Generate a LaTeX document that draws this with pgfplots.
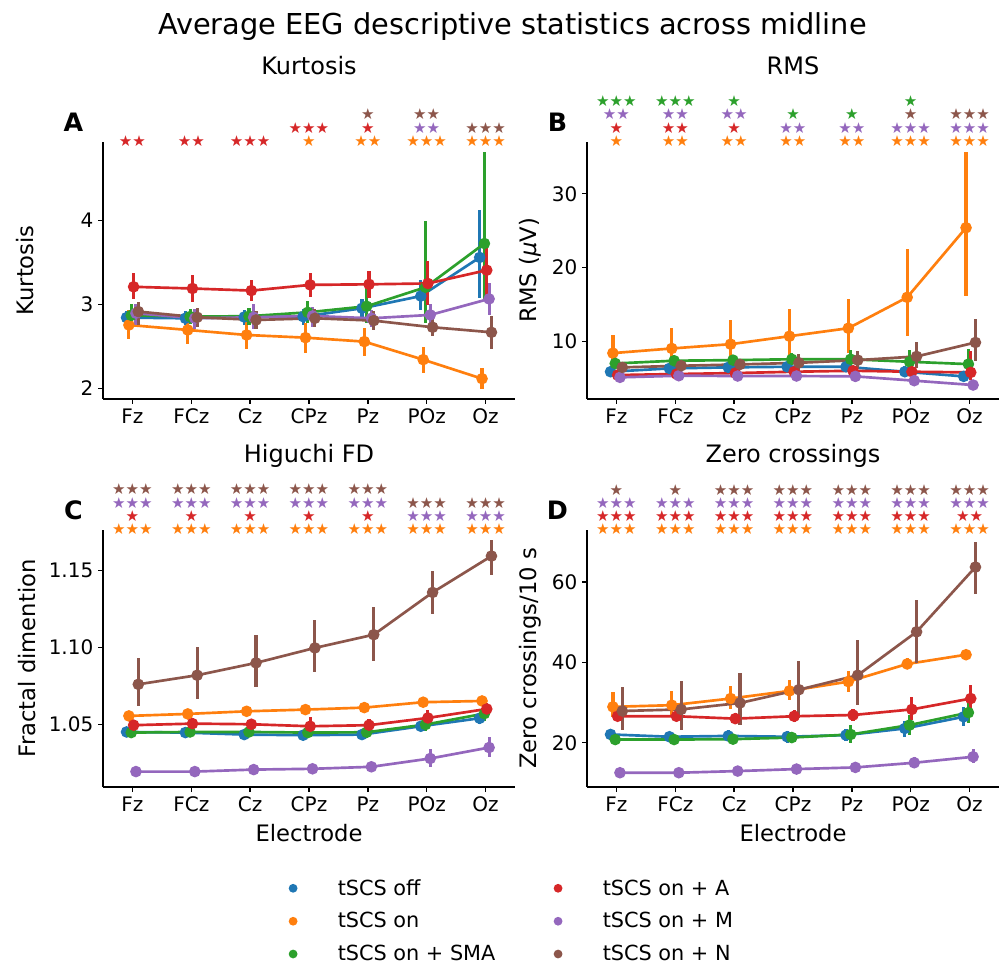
\documentclass[border=0pt]{standalone}
\usepackage{fontspec}
\setmainfont{DejaVu Sans}
\usepackage{pgfplots}
\pgfplotsset{compat=1.18}
\usepackage{pgfplotstable}

\definecolor{tBlue}{HTML}{1F77B4}
\definecolor{tOrange}{HTML}{FF7F0E}
\definecolor{tGreen}{HTML}{2CA02C}
\definecolor{tRed}{HTML}{D62728}
\definecolor{tPurple}{HTML}{9467BD}
\definecolor{tBrown}{HTML}{8C564B}

% columns: x, then value / low / high for each group
% b = tSCS off, o = tSCS on, g = +SMA, r = +A, p = +M, n = +N
\pgfplotstableread{
x b bl bh o ol oh g gl gh r rl rh p pl ph n nl nh
0 2.843 2.77 2.92 2.755 2.59 2.93 2.87 2.79 3.01 3.21 3.07 3.37 2.895 2.76 3.01 2.915 2.76 3.03
1 2.835 2.75 2.92 2.696 2.53 2.87 2.855 2.77 2.94 3.19 3.03 3.35 2.835 2.71 2.95 2.847 2.73 2.96
2 2.85 2.76 2.93 2.636 2.47 2.80 2.86 2.75 2.96 3.165 3.04 3.29 2.847 2.71 3.00 2.815 2.71 2.92
3 2.855 2.76 2.95 2.604 2.42 2.78 2.906 2.78 3.04 3.233 3.09 3.38 2.863 2.73 2.97 2.835 2.73 2.94
4 2.954 2.83 3.07 2.557 2.39 2.72 2.978 2.78 3.21 3.24 3.08 3.40 2.835 2.73 2.93 2.807 2.70 2.92
5 3.10 2.93 3.29 2.342 2.18 2.49 3.205 2.78 3.99 3.25 2.99 3.52 2.875 2.75 3.00 2.728 2.62 2.84
6 3.56 3.08 4.12 2.115 1.99 2.24 3.726 3.05 4.82 3.408 3.07 3.68 3.066 2.88 3.25 2.668 2.47 2.86
}\tKurt

\pgfplotstableread{
x b bl bh o ol oh g gl gh r rl rh p pl ph n nl nh
0 5.91 5.5 6.3 8.43 6.3 10.85 7.03 6.4 7.7 5.46 5.1 5.8 5.15 4.8 5.5 6.5 6.0 7.0
1 6.36 5.9 6.8 9.06 7.0 11.84 7.4 6.8 8.0 5.6 5.2 6.0 5.37 5.0 5.75 6.72 6.2 7.3
2 6.5 6.0 7.0 9.64 7.5 12.9 7.48 6.8 8.1 5.73 5.3 6.2 5.33 5.0 5.7 6.9 6.3 7.6
3 6.58 6.0 7.2 10.72 7.8 14.36 7.6 6.8 8.4 5.91 5.4 6.5 5.33 5.0 5.7 7.12 6.0 8.3
4 6.58 5.9 7.3 11.8 8.5 15.8 7.6 6.6 8.8 6.04 5.5 6.6 5.28 4.9 5.7 7.48 6.3 8.7
5 5.91 5.2 6.7 15.98 10.76 22.54 7.26 6.0 8.9 5.91 5.3 6.6 4.7 4.3 5.1 7.98 6.4 10.0
6 5.28 4.8 5.8 25.4 16.16 35.66 6.94 5.5 9.0 5.82 4.8 8.65 4.11 3.8 4.45 9.87 7.4 13.0
}\tRMS

\pgfplotstableread{
x b bl bh o ol oh g gl gh r rl rh p pl ph n nl nh
0 1.0452 1.043 1.0475 1.0556 1.0535 1.0578 1.0448 1.042 1.0475 1.0496 1.0465 1.053 1.0195 1.018 1.021 1.0761 1.0619 1.0932
1 1.0448 1.0425 1.047 1.0569 1.055 1.0588 1.0452 1.0425 1.048 1.0506 1.0475 1.054 1.0195 1.018 1.021 1.082 1.0665 1.1005
2 1.0435 1.041 1.046 1.0586 1.0565 1.0607 1.0452 1.0425 1.048 1.0502 1.047 1.0535 1.0208 1.019 1.0225 1.09 1.0745 1.108
3 1.0431 1.0405 1.046 1.0597 1.0575 1.062 1.0448 1.0415 1.048 1.0489 1.044 1.0552 1.0213 1.0195 1.023 1.0997 1.084 1.118
4 1.0435 1.041 1.0465 1.061 1.0588 1.0632 1.045 1.0415 1.049 1.0496 1.0455 1.0535 1.0226 1.0205 1.0245 1.1083 1.091 1.126
5 1.0489 1.0455 1.0525 1.0645 1.062 1.067 1.05 1.046 1.054 1.0543 1.049 1.0595 1.028 1.0225 1.034 1.1357 1.122 1.1495
6 1.0541 1.0505 1.0575 1.0653 1.0625 1.068 1.0571 1.0525 1.0615 1.0601 1.0565 1.064 1.0351 1.029 1.042 1.1593 1.147 1.170
}\tHig

\pgfplotstableread{
x b bl bh o ol oh g gl gh r rl rh p pl ph n nl nh
0 22.07 21.0 23.5 28.94 26.3 32.7 20.8 19.7 22.0 26.6 25.5 27.9 12.55 12.3 12.8 27.9 23.3 33.9
1 21.5 20.7 22.6 29.35 26.5 32.9 20.8 19.8 22.0 26.6 25.3 27.9 12.55 12.3 12.8 28.3 23.3 35.4
2 21.7 20.6 23.3 31.0 28.5 34.2 20.9 19.7 22.2 26.0 24.9 27.3 12.96 12.7 13.2 29.9 24.5 37.4
3 21.5 20.0 23.0 32.9 30.7 35.7 21.3 19.9 22.8 26.6 25.2 28.2 13.46 13.2 13.75 33.2 26.2 40.3
4 21.9 20.5 23.5 35.2 32.6 37.9 22.07 20.0 24.5 26.9 25.5 28.5 13.87 13.5 14.25 36.8 29.4 45.6
5 23.56 21.5 25.5 39.6 38.5 41.0 24.4 22.0 27.0 28.3 25.6 31.3 15.03 13.7 16.5 47.6 39.9 55.6
6 26.46 24.2 28.8 41.9 41.3 42.4 27.5 25.0 30.0 31.0 28.4 34.4 16.52 14.9 18.5 63.7 57.0 70.0
}\tZero

\newcommand{\ser}[4]{%
\addplot[color=#3, line width=2pt, mark=*, mark size=3.3pt, mark options={solid},
  error bars/.cd, y dir=both, y explicit, error mark=none,
  error bar style={line width=2.4pt, color=#3}]
  table[x expr=\thisrow{x}+#4, y=#2,
        y error plus expr=\thisrow{#2h}-\thisrow{#2},
        y error minus expr=\thisrow{#2}-\thisrow{#2l}] {#1};}
\newcommand{\allser}[1]{%
\ser{#1}{b}{tBlue}{-0.1}
\ser{#1}{o}{tOrange}{-0.06}
\ser{#1}{g}{tGreen}{-0.02}
\ser{#1}{r}{tRed}{0.02}
\ser{#1}{p}{tPurple}{0.06}
\ser{#1}{n}{tBrown}{0.1}}

\pgfplotsset{
  legdot/.style={legend image code/.code={\fill[#1, draw=none] (0pt,0pt) circle (3.3pt); \path[draw=none, fill=none] (-4pt,0pt) -- (31.5pt,0pt);}},
  panel/.style={
    scale only axis, width=309pt, height=193pt, anchor=south west,
    xmin=-0.5, xmax=6.5, xtick={0,...,6},
    xticklabels={Fz,FCz,Cz,CPz,Pz,POz,Oz},
    axis x line*=bottom, axis y line*=left,
    axis line style={-, line width=1pt},
    tick align=outside, major tick length=3.75pt,
    tick style={line width=1pt, black},
    ticklabel style={font=\fontsize{15}{18}\selectfont},
    label style={font=\fontsize{17}{20}\selectfont},
    title style={font=\fontsize{18}{21}\selectfont, at={(0.5,1.231)}, anchor=base},
    clip=false,
  },
  stars/.style={draw=none, mark=none, nodes near coords, point meta=explicit symbolic,
    nodes near coords align=center,
    every node near coord/.append style={text=#1, inner sep=0pt, anchor=center,
      font=\fontsize{11.3}{12}\selectfont}},
}
\newcommand{\panelletter}[1]{\node[font=\bfseries\fontsize{19}{22}\selectfont, anchor=base] at (rel axis cs:-0.0716,1.040) {#1};}

\begin{document}
\begin{tikzpicture}
\path[use as bounding box] (0pt,0pt) rectangle (750pt,723.75pt);
\node[font=\fontsize{21.6}{26}\selectfont, anchor=base] at (384.4pt,697.5pt) {Average EEG descriptive statistics across midline};

% ---------- A: Kurtosis
\begin{axis}[panel, at={(77.25pt,424.5pt)},
  ymin=1.873, ymax=4.94, ytick={2,3,4}, yticklabels={2,3,4},
  title={Kurtosis}, ylabel={Kurtosis},
  ylabel style={at={(axis description cs:-0.189,0.5)}, anchor=center}]
\allser{\tKurt}
\addplot[stars=tRed] table[meta=s] {
x y s
0 4.948 ★★
1 4.948 ★★
2 4.948 ★★★
3 5.107 ★★★
4 5.107 ★
};
\addplot[stars=tOrange] table[meta=s] {
x y s
3 4.948 ★
4 4.948 ★★
5 4.948 ★★★
6 4.948 ★★★
};
\addplot[stars=tPurple] table[meta=s] {
x y s
5 5.107 ★★
};
\addplot[stars=tBrown] table[meta=s] {
x y s
4 5.265 ★
5 5.265 ★★
6 5.107 ★★★
};
\panelletter{A}
\end{axis}

% ---------- B: RMS
\begin{axis}[panel, at={(440.25pt,424.5pt)},
  ymin=2.22, ymax=37.05, ytick={10,20,30}, yticklabels={10,20,30},
  title={RMS}, ylabel={RMS (\textit{μ}V)},
  ylabel style={at={(axis description cs:-0.138,0.5)}, anchor=center}]
\allser{\tRMS}
\addplot[stars=tOrange] table[meta=s] {
x y s
0 37.14 ★
1 37.14 ★★
2 37.14 ★★
3 37.14 ★★
4 37.14 ★★
5 37.14 ★★★
6 37.14 ★★★
};
\addplot[stars=tRed] table[meta=s] {
x y s
0 38.93 ★
1 38.93 ★★
2 38.93 ★
};
\addplot[stars=tPurple] table[meta=s] {
x y s
0 40.73 ★★
1 40.73 ★★
2 40.73 ★★
3 38.93 ★★
4 38.93 ★★
5 38.93 ★★★
6 38.93 ★★★
};
\addplot[stars=tBrown] table[meta=s] {
x y s
5 40.73 ★
6 40.73 ★★★
};
\addplot[stars=tGreen] table[meta=s] {
x y s
0 42.52 ★★★
1 42.52 ★★★
2 42.52 ★
3 40.73 ★
4 40.73 ★
5 42.52 ★
};
\panelletter{B}
\end{axis}

% ---------- C: Higuchi FD
\begin{axis}[panel, at={(77.25pt,133.5pt)},
  ymin=1.0095, ymax=1.1764, ytick={1.05,1.10,1.15}, yticklabels={1.05,1.10,1.15},
  title={Higuchi FD}, ylabel={Fractal dimention}, xlabel={Electrode},
  ylabel style={at={(axis description cs:-0.184,0.5)}, anchor=center},
  xlabel style={at={(axis description cs:0.5,-0.178)}, anchor=center},
  legend columns=2, legend cell align=left,
  legend style={at={(0.992,-0.345)}, anchor=north, draw=none, fill=none,
    font=\fontsize{15.6}{19}\selectfont, row sep=10.5pt,
    nodes={inner ysep=0.5pt},
    /tikz/every even column/.append style={column sep=41pt}}]
\addlegendimage{legdot=tBlue}
\addlegendentry{tSCS off}
\addlegendimage{legdot=tRed}
\addlegendentry{tSCS on + A}
\addlegendimage{legdot=tOrange}
\addlegendentry{tSCS on}
\addlegendimage{legdot=tPurple}
\addlegendentry{tSCS on + M}
\addlegendimage{legdot=tGreen}
\addlegendentry{tSCS on + SMA}
\addlegendimage{legdot=tBrown}
\addlegendentry{tSCS on + N}
\allser{\tHig}
\addplot[stars=tOrange] table[meta=s] {
x y s
0 1.1768 ★★★
1 1.1768 ★★★
2 1.1768 ★★★
3 1.1768 ★★★
4 1.1768 ★★★
5 1.1768 ★★★
6 1.1768 ★★★
};
\addplot[stars=tRed] table[meta=s] {
x y s
0 1.1855 ★
1 1.1855 ★
2 1.1855 ★
3 1.1855 ★
4 1.1855 ★
};
\addplot[stars=tPurple] table[meta=s] {
x y s
0 1.1937 ★★★
1 1.1937 ★★★
2 1.1937 ★★★
3 1.1937 ★★★
4 1.1937 ★★★
5 1.1855 ★★★
6 1.1855 ★★★
};
\addplot[stars=tBrown] table[meta=s] {
x y s
0 1.2024 ★★★
1 1.2024 ★★★
2 1.2024 ★★★
3 1.2024 ★★★
4 1.2024 ★★★
5 1.1937 ★★★
6 1.1937 ★★★
};
\panelletter{C}
\end{axis}

% ---------- D: Zero crossings
\begin{axis}[panel, at={(440.25pt,133.5pt)},
  ymin=9.0, ymax=73, ytick={20,40,60}, yticklabels={20,40,60},
  title={Zero crossings}, ylabel={Zero crossings/10 s}, xlabel={Electrode},
  ylabel style={at={(axis description cs:-0.138,0.5)}, anchor=center},
  xlabel style={at={(axis description cs:0.5,-0.178)}, anchor=center}]
\allser{\tZero}
\addplot[stars=tOrange] table[meta=s] {
x y s
0 73.15 ★★★
1 73.15 ★★★
2 73.15 ★★★
3 73.15 ★★★
4 73.15 ★★★
5 73.15 ★★★
6 73.15 ★★★
};
\addplot[stars=tRed] table[meta=s] {
x y s
0 76.48 ★★★
1 76.48 ★★★
2 76.48 ★★★
3 76.48 ★★★
4 76.48 ★★★
5 76.48 ★★★
6 76.48 ★★
};
\addplot[stars=tPurple] table[meta=s] {
x y s
0 79.7 ★★★
1 79.7 ★★★
2 79.7 ★★★
3 79.7 ★★★
4 79.7 ★★★
5 79.7 ★★★
6 79.7 ★★★
};
\addplot[stars=tBrown] table[meta=s] {
x y s
0 82.9 ★
1 82.9 ★
2 82.9 ★★★
3 82.9 ★★★
4 82.9 ★★★
5 82.9 ★★★
6 82.9 ★★★
};
\panelletter{D}
\end{axis}
\end{tikzpicture}
\end{document}
